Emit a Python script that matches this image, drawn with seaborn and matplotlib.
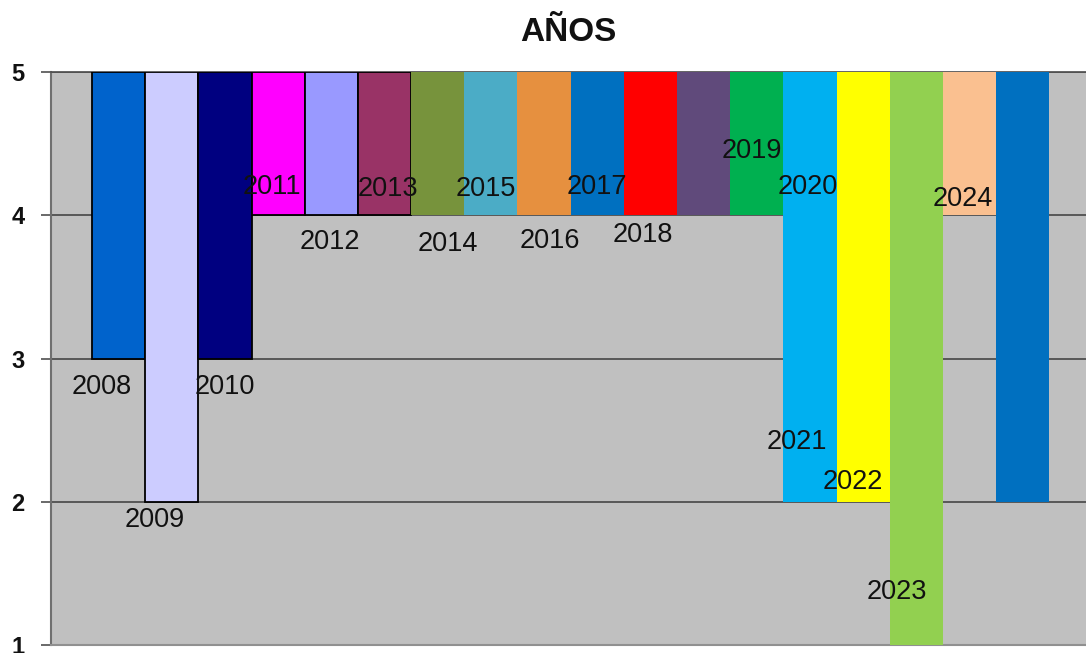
import matplotlib
matplotlib.use("Agg")
import matplotlib.pyplot as plt
import seaborn as sns
import pandas as pd

# ---- data ----
bar_ids = [f"b{i:02d}" for i in range(1, 19)]
bar_values = [3, 2, 3, 4, 4, 4, 4, 4, 4, 4, 4, 4, 4, 2, 2, 1, 4, 2]
bar_colors = ["#0063CC", "#CCCCFF", "#000080", "#FF00FF", "#9999FF", "#993366",
              "#77933C", "#4BACC6", "#E6903F", "#0070C0", "#FF0000", "#604A7B",
              "#00B050", "#00B0F0", "#FFFF00", "#92D050", "#FAC090", "#0070C0"]
bar_outlined = [True] * 6 + [False] * 12
year_labels = ["2008", "2009", "2010", "2011", "2012", "2013", "2014", "2015", "2016",
               "2017", "2018", "2019", "2020", "2021", "2022", "2023", "2024"]
# label placement (x in category units, y in value units)
label_x = [-0.31, 0.68, 2.0, 2.88, 3.97, 5.06, 6.19, 6.91, 8.11, 9.0, 9.86,
           11.91, 12.96, 12.75, 13.80, 14.63, 15.87]
label_y = [2.80, 1.87, 2.80, 4.20, 3.81, 4.18, 3.80, 4.18, 3.82, 4.20, 3.86,
           4.45, 4.20, 2.42, 2.14, 1.37, 4.11]
top_value = 5
y_ticks = [1, 2, 3, 4, 5]
title = "AÑOS"

df = pd.DataFrame({"bar": bar_ids, "value": bar_values, "outlined": bar_outlined})
df["depth"] = df["value"] - top_value
palette = dict(zip(bar_ids, bar_colors))

sns.set_theme(style="white")
plt.rcParams["font.family"] = ["Liberation Sans", "DejaVu Sans"]

fig = plt.figure(figsize=(10.86, 6.53), dpi=100)
ax = fig.add_axes([51 / 1086, 1 - 645 / 653, 1 - 51 / 1086, (645 - 72) / 653])
ax.set_facecolor("#C0C0C0")

sns.barplot(data=df[df["outlined"]], x="bar", y="depth", hue="bar", order=bar_ids,
            hue_order=bar_ids, palette=palette, bottom=top_value, width=1.0,
            edgecolor="black", linewidth=1.3, legend=False, ax=ax, zorder=3,
            saturation=1)
sns.barplot(data=df[~df["outlined"]], x="bar", y="depth", hue="bar", order=bar_ids,
            hue_order=bar_ids, palette=palette, bottom=top_value, width=1.0,
            linewidth=0, legend=False, ax=ax, zorder=3, saturation=1)

for txt, lx, ly in zip(year_labels, label_x, label_y):
    ax.text(lx, ly, txt, ha="center", va="center", fontsize=19.5, color="#111111",
            zorder=5)

ax.set_xlim(-1.27, 18.19)
ax.set_ylim(1, 5)
ax.set_yticks(y_ticks)
ax.set_yticklabels([str(t) for t in y_ticks], fontsize=17, fontweight="bold",
                   color="#111111")
ax.set_xticks([])
ax.set_xlabel("")
ax.set_ylabel("")
ax.yaxis.grid(True, color="#505050", linewidth=1.3, zorder=1)
ax.set_axisbelow(True)
ax.tick_params(axis="y", direction="out", length=7, width=1.2, color="#505050",
               left=True, pad=12)
ax.spines["right"].set_visible(False)
ax.spines["left"].set_color("#707070")
ax.spines["left"].set_linewidth(1.5)
ax.spines["top"].set_color("#505050")
ax.spines["bottom"].set_color("#909090")
ax.spines["bottom"].set_linewidth(1.5)

ax.set_title(title, fontsize=24, fontweight="bold", pad=22, color="#111111")

fig.savefig("out.png", dpi=100)
